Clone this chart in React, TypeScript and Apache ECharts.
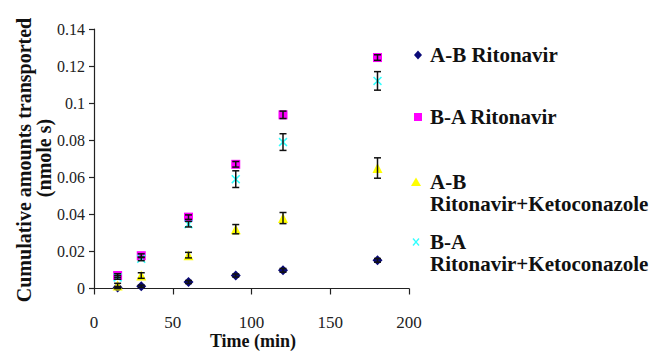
import React, { useEffect, useRef } from "react";
import * as echarts from "echarts";

const times = [15, 30, 60, 90, 120, 180];
const seriesNames = [
  "A-B Ritonavir",
  "B-A Ritonavir",
  "A-B Ritonavir+Ketoconazole",
  "B-A Ritonavir+Ketoconazole",
];
const abRitonavir = [0.0005, 0.0012, 0.0035, 0.007, 0.0098, 0.0152];
const baRitonavir = [0.007, 0.0177, 0.0385, 0.067, 0.0937, 0.1246];
const abKeto = [0.0016, 0.007, 0.018, 0.032, 0.038, 0.065];
const baKeto = [0.006, 0.016, 0.0347, 0.059, 0.079, 0.112];
const abRitonavirErr = [0.0006, 0.0006, 0.0008, 0.0008, 0.001, 0.001];
const baRitonavirErr = [0.001, 0.001, 0.0012, 0.0015, 0.002, 0.0015];
const abKetoErr = [0.0012, 0.0015, 0.0015, 0.0025, 0.003, 0.0055];
const baKetoErr = [0.001, 0.001, 0.0015, 0.0045, 0.0045, 0.005];
const xTicks = [0, 50, 100, 150, 200];
const yTicks = [0, 0.02, 0.04, 0.06, 0.08, 0.1, 0.12, 0.14];
const xTitle = "Time (min)";
const yTitleLines = ["Cumulative amounts transported", "(nmole s)"];

const SERIF = "Liberation Serif";
const colors = ["#0a0a78", "#ff00ff", "#ffff00", "#33ffff"];
const crossPath =
  "path://M0,1.2L1.2,0L5,3.8L8.8,0L10,1.2L6.2,5L10,8.8L8.8,10L5,6.2L1.2,10L0,8.8L3.8,5Z";
const symbols = ["diamond", "rect", "triangle", crossPath];
const symbolSizes = [10, 9, 10, 9];

const values = [abRitonavir, baRitonavir, abKeto, baKeto];
const errors = [abRitonavirErr, baRitonavirErr, abKetoErr, baKetoErr];

export default function App() {
  const ref = useRef<HTMLDivElement>(null);
  useEffect(() => {
    if (!ref.current) return;
    const chart = echarts.init(ref.current, null, { renderer: "svg" });
    const scatterSeries = values.map((vals, i) => ({
      type: "scatter",
      name: seriesNames[i],
      symbol: symbols[i],
      symbolSize: symbolSizes[i],
      itemStyle: { color: colors[i], opacity: 1 },
      data: times.map((t, j) => [t, vals[j]]),
      z: 2,
    }));
    const errorSeries = values.map((vals, i) => ({
      type: "custom",
      name: seriesNames[i] + " err",
      z: 3,
      data: times.map((t, j) => [t, vals[j] - errors[i][j], vals[j] + errors[i][j]]),
      renderItem: (params: any, api: any) => {
        const x = api.value(0);
        const lo = api.coord([x, api.value(1)]);
        const hi = api.coord([x, api.value(2)]);
        const hw = 3.5;
        const style = { stroke: "#111", lineWidth: 1.5, fill: "none" };
        return {
          type: "group",
          children: [
            { type: "line", shape: { x1: lo[0], y1: lo[1], x2: hi[0], y2: hi[1] }, style },
            { type: "line", shape: { x1: lo[0] - hw, y1: lo[1], x2: lo[0] + hw, y2: lo[1] }, style },
            { type: "line", shape: { x1: hi[0] - hw, y1: hi[1], x2: hi[0] + hw, y2: hi[1] }, style },
          ],
        };
      },
    }));

    const legendRows = [
      { lines: ["A-B Ritonavir"], y: 55 },
      { lines: ["B-A Ritonavir"], y: 117 },
      { lines: ["A-B", "Ritonavir+Ketoconazole"], y: 182 },
      { lines: ["B-A", "Ritonavir+Ketoconazole"], y: 242 },
    ];
    const legendGraphics: any[] = [];
    const mx = 418;
    legendRows.forEach((row, i) => {
      const y = row.y;
      if (i === 0) {
        legendGraphics.push({
          type: "polygon",
          shape: { points: [[mx, y - 4.5], [mx + 4, y], [mx, y + 4.5], [mx - 4, y]] },
          style: { fill: colors[0] },
        });
      } else if (i === 1) {
        legendGraphics.push({
          type: "rect",
          shape: { x: mx - 4, y: y - 4, width: 8, height: 8 },
          style: { fill: colors[1] },
        });
      } else if (i === 2) {
        legendGraphics.push({
          type: "polygon",
          shape: { points: [[mx - 2, y - 4.5], [mx + 3, y + 4], [mx - 7, y + 4]] },
          style: { fill: colors[2] },
        });
      } else {
        legendGraphics.push({
          type: "line",
          shape: { x1: mx - 5, y1: y - 3.5, x2: mx + 1, y2: y + 3.5 },
          style: { stroke: colors[3], lineWidth: 1.3 },
        });
        legendGraphics.push({
          type: "line",
          shape: { x1: mx + 1, y1: y - 3.5, x2: mx - 5, y2: y + 3.5 },
          style: { stroke: colors[3], lineWidth: 1.3 },
        });
      }
      row.lines.forEach((line, k) => {
        legendGraphics.push({
          type: "text",
          x: 430,
          y: y + k * 22,
          style: {
            text: line,
            fill: "#111",
            fontFamily: SERIF,
            fontSize: 21,
            fontWeight: "bold",
            verticalAlign: "middle",
            align: "left",
          },
        });
      });
    });

    chart.setOption({
      animation: false,
      backgroundColor: "#ffffff",
      textStyle: { fontFamily: SERIF },
      grid: {
        left: 94,
        right: 241,
        top: 29,
        bottom: 63.5,
        containLabel: false,
        outerBoundsMode: "none",
      },
      xAxis: {
        type: "value",
        min: 0,
        max: 200,
        interval: 50,
        splitLine: { show: false },
        axisLine: { show: true, lineStyle: { color: "#222", width: 1.2 } },
        axisTick: { show: true, length: 6, lineStyle: { color: "#222", width: 1.2 } },
        axisLabel: {
          margin: 25,
          color: "#222",
          fontSize: 17,
          fontFamily: SERIF,
          formatter: (v: number) => (xTicks.includes(v) ? String(v) : ""),
        },
      },
      yAxis: {
        type: "value",
        min: 0,
        max: 0.14,
        interval: 0.02,
        splitLine: { show: false },
        axisLine: { show: true, lineStyle: { color: "#222", width: 1.2 } },
        axisTick: { show: true, length: 5, lineStyle: { color: "#222", width: 1.2 } },
        axisLabel: {
          margin: 9,
          color: "#222",
          fontSize: 16,
          fontFamily: SERIF,
          formatter: (v: number) => {
            const t = yTicks.find((k) => Math.abs(k - v) < 1e-9);
            return t === undefined ? "" : String(Number(t.toFixed(2)));
          },
        },
      },
      graphic: [
        {
          type: "text",
          x: 253,
          y: 341,
          style: {
            text: xTitle,
            fill: "#111",
            fontFamily: SERIF,
            fontSize: 18,
            fontWeight: "bold",
            align: "center",
            verticalAlign: "middle",
          },
        },
        {
          type: "text",
          x: 24,
          y: 160,
          rotation: Math.PI / 2,
          style: {
            text: yTitleLines[0],
            fill: "#111",
            fontFamily: SERIF,
            fontSize: 20,
            fontWeight: "bold",
            align: "center",
            verticalAlign: "middle",
          },
        },
        {
          type: "text",
          x: 44,
          y: 158,
          rotation: Math.PI / 2,
          style: {
            text: yTitleLines[1],
            fill: "#111",
            fontFamily: SERIF,
            fontSize: 20,
            fontWeight: "bold",
            align: "center",
            verticalAlign: "middle",
          },
        },
        ...legendGraphics,
      ],
      series: [...scatterSeries, ...errorSeries],
    });
    return () => chart.dispose();
  }, []);
  return (
    <div
      ref={ref}
      style={{ position: "fixed", left: 0, top: 0, width: 650, height: 352, background: "#fff" }}
    />
  );
}
